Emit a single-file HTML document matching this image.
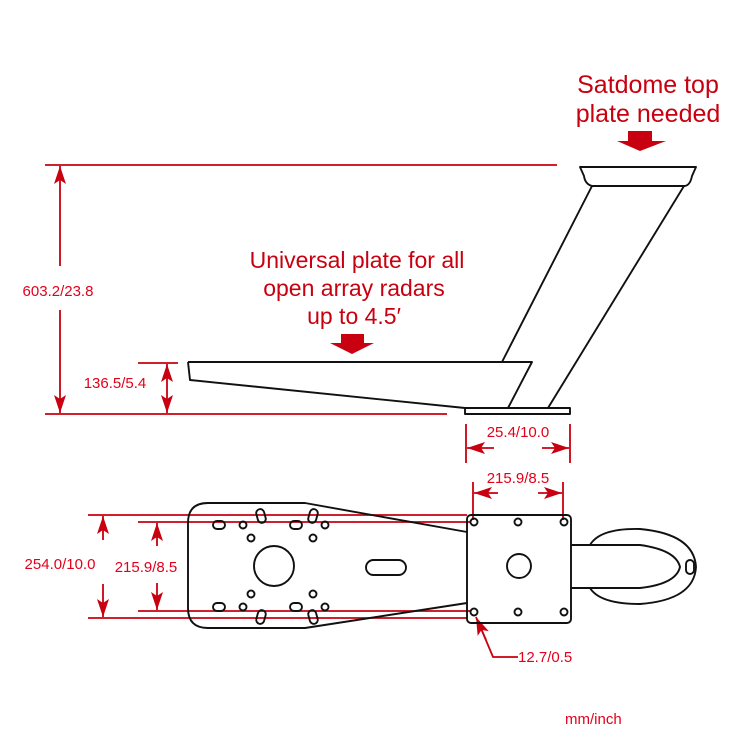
<!DOCTYPE html>
<html><head><style>
body{margin:0;background:#fff;}
svg{display:block;}
text{font-family:"Liberation Sans",sans-serif;fill:#e3001b;}
</style></head><body>
<svg width="750" height="750" viewBox="0 0 750 750" xmlns="http://www.w3.org/2000/svg">
<defs>
<marker id="a" viewBox="0 0 18 12" refX="18" refY="6" markerWidth="18" markerHeight="12" markerUnits="userSpaceOnUse" orient="auto"><path d="M0,0 L18,6 L0,12 L4,6 z" fill="#c8000f"/></marker>
</defs>
<text x="648" y="93" font-size="25" text-anchor="middle" style="fill:#c8000f">Satdome top</text>
<text x="648" y="122" font-size="25" text-anchor="middle" style="fill:#c8000f">plate needed</text>
<path d="M628,131 H652 V141 H666 L640,151 L617,141 H628 Z" fill="#c8000f"/>
<text x="357" y="268" font-size="23" text-anchor="middle" style="fill:#c8000f">Universal plate for all</text>
<text x="354" y="296" font-size="23" text-anchor="middle" style="fill:#c8000f">open array radars</text>
<text x="354" y="324" font-size="23" text-anchor="middle" style="fill:#c8000f">up to 4.5′</text>
<path d="M341,334 H364 V343 H374 L352,354 L330,343 H341 Z" fill="#c8000f"/>

<g stroke="#c8000f" stroke-width="1.8" fill="none">
<line x1="45" y1="165" x2="557" y2="165"/>
<line x1="45" y1="414" x2="447" y2="414"/>
<line x1="60" y1="266" x2="60" y2="166" marker-end="url(#a)"/>
<line x1="60" y1="310" x2="60" y2="413" marker-end="url(#a)"/>
<line x1="138" y1="363" x2="178" y2="363"/>
<line x1="167" y1="388" x2="167" y2="364" marker-end="url(#a)"/>
<line x1="167" y1="388" x2="167" y2="413" marker-end="url(#a)"/>
<line x1="466" y1="424" x2="466" y2="463"/>
<line x1="570" y1="424" x2="570" y2="463"/>
<line x1="494" y1="448" x2="467" y2="448" marker-end="url(#a)"/>
<line x1="542" y1="448" x2="569" y2="448" marker-end="url(#a)"/>
<line x1="473" y1="482" x2="473" y2="520"/>
<line x1="563" y1="482" x2="563" y2="520"/>
<line x1="498" y1="493" x2="474" y2="493" marker-end="url(#a)"/>
<line x1="538" y1="493" x2="562" y2="493" marker-end="url(#a)"/>
<line x1="88" y1="515" x2="467" y2="515"/>
<line x1="88" y1="618" x2="467" y2="618"/>
<line x1="138" y1="522" x2="470" y2="522"/>
<line x1="138" y1="611" x2="470" y2="611"/>
<line x1="103" y1="540" x2="103" y2="516" marker-end="url(#a)"/>
<line x1="103" y1="584" x2="103" y2="617" marker-end="url(#a)"/>
<line x1="157" y1="546" x2="157" y2="523" marker-end="url(#a)"/>
<line x1="157" y1="583" x2="157" y2="610" marker-end="url(#a)"/>
<polyline points="518,657 493,657 480,626" />
<line x1="486" y1="640" x2="476" y2="617" marker-end="url(#a)"/>
</g>
<g font-size="15">
<text x="58" y="296" text-anchor="middle">603.2/23.8</text>
<text x="115" y="388" text-anchor="middle">136.5/5.4</text>
<text x="518" y="437" text-anchor="middle">25.4/10.0</text>
<text x="518" y="483" text-anchor="middle">215.9/8.5</text>
<text x="60" y="569" text-anchor="middle">254.0/10.0</text>
<text x="146" y="572" text-anchor="middle">215.9/8.5</text>
<text x="518" y="662">12.7/0.5</text>
<text x="565" y="724">mm/inch</text>
</g>

<g stroke="#111" stroke-width="1.9" fill="none" stroke-linejoin="round">
<path d="M580,167 H696 L692,176 Q690,186 684,186 H592 Q585,184 584,176 Z"/>
<line x1="592" y1="186" x2="502" y2="362"/>
<line x1="684" y1="186" x2="548" y2="408"/>
<path d="M188,362 H532 L508,408"/>
<path d="M188,362 L190,380 L465,408"/>
<rect x="465" y="408" width="105" height="6"/>
<path d="M208,503 H305 L467,532 M467,603 L305,628 H208 Q188,628 188,608 V523 Q188,503 208,503"/>
<rect x="467" y="515" width="104" height="108" rx="4"/>
<circle cx="474" cy="522" r="3.5"/><circle cx="518" cy="522" r="3.5"/><circle cx="564" cy="522" r="3.5"/>
<circle cx="474" cy="612" r="3.5"/><circle cx="518" cy="612" r="3.5"/><circle cx="564" cy="612" r="3.5"/>
<circle cx="519" cy="566" r="12"/>
<circle cx="274" cy="566" r="20"/>
<rect x="366" y="560" width="40" height="15" rx="7.5"/>
<rect x="213" y="521" width="12" height="8" rx="4"/><circle cx="243" cy="525" r="3.5"/><circle cx="251" cy="538" r="3.5"/>
<rect x="290" y="521" width="12" height="8" rx="4"/><circle cx="325" cy="525" r="3.5"/><circle cx="313" cy="538" r="3.5"/>
<rect x="213" y="603" width="12" height="8" rx="4"/><circle cx="243" cy="607" r="3.5"/><circle cx="251" cy="594" r="3.5"/>
<rect x="290" y="603" width="12" height="8" rx="4"/><circle cx="325" cy="607" r="3.5"/><circle cx="313" cy="594" r="3.5"/>
<rect x="257" y="509" width="8" height="14" rx="4" transform="rotate(-15 261 516)"/>
<rect x="309" y="509" width="8" height="14" rx="4" transform="rotate(15 313 516)"/>
<rect x="257" y="610" width="8" height="14" rx="4" transform="rotate(15 261 617)"/>
<rect x="309" y="610" width="8" height="14" rx="4" transform="rotate(-15 313 617)"/>
<path d="M571,545 H640 Q676,550 680,567 Q676,584 640,588 H571"/>
<path d="M590,545 Q600,528 640,529 Q694,534 696,567 Q694,600 640,604 Q600,604 590,588"/>
<rect x="686" y="560" width="8" height="14" rx="4"/>
</g>
</svg>
</body></html>
